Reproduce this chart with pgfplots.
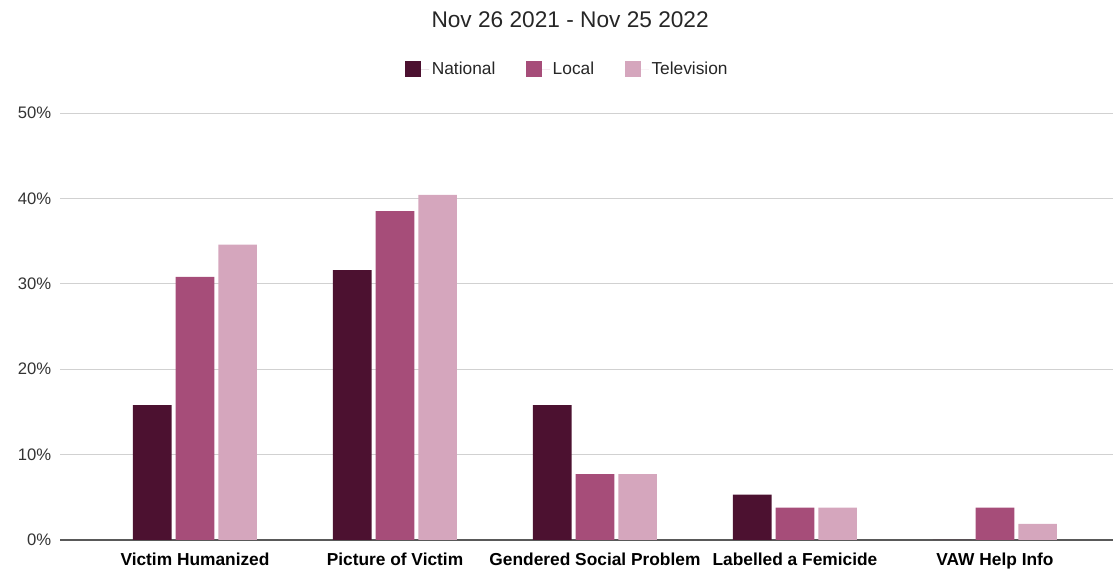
\documentclass[border=0pt]{standalone}
\usepackage{fontspec}
\setmainfont{Liberation Sans}
\usepackage{pgfplots}
\pgfplotsset{compat=1.18}
\definecolor{nat}{HTML}{4C1130}
\definecolor{loc}{HTML}{A64D79}
\definecolor{tv}{HTML}{D5A6BD}
\begin{document}
\begin{tikzpicture}
\path[use as bounding box] (-45pt,-22.5pt) rectangle (789.75pt,405pt);
\begin{axis}[
  at={(0,0)}, anchor=south west,
  scale only axis, width=790pt, height=320.25pt,
  xmin=-0.675, xmax=4.592, ymin=0, ymax=50,
  ybar=3pt, bar width=29pt,
  xtick={0,...,4},
  xticklabels={Victim Humanized, Picture of Victim, Gendered Social Problem, Labelled a Femicide, VAW Help Info},
  ytick={0,10,...,50},
  yticklabel={\pgfmathprintnumber{\tick}\%},
  ymajorgrids, grid style={color=black!18, line width=0.75pt},
  extra y ticks={0}, extra y tick labels={},
  extra y tick style={grid style={color=black!65, line width=1.3pt}},
  axis line style={draw=none}, tick style={draw=none},
  x tick label style={font=\fontsize{13}{15}\selectfont\bfseries, text=black, yshift=-2pt},
  y tick label style={font=\fontsize{12.5}{15}\selectfont, text=black!80, xshift=-3pt},
  /pgf/number format/assume math mode=true,
  title={Nov 26 2021 - Nov 25 2022},
  title style={at={(0.4843,1.199)}, anchor=center, font=\fontsize{17}{20}\selectfont, text=black!85},
  legend columns=3,
  legend style={at={(0.482,1.102)}, anchor=center, draw=none, font=\fontsize{13}{15}\selectfont, text=black!85,
    /tikz/every even column/.append style={column sep=21pt}},
  legend image code/.code={\fill[#1] (0pt,-6pt) rectangle (12pt,6pt); \path (0pt,0pt) -- (18pt,0pt);},
]
\addplot[fill=nat, draw=none] coordinates {(0,15.8) (1,31.6) (2,15.8) (3,5.3) (4,0)};
\addplot[fill=loc, draw=none] coordinates {(0,30.8) (1,38.5) (2,7.7) (3,3.8) (4,3.8)};
\addplot[fill=tv, draw=none] coordinates {(0,34.6) (1,40.4) (2,7.7) (3,3.8) (4,1.9)};
\legend{National, Local, Television}
\end{axis}
\end{tikzpicture}
\end{document}
